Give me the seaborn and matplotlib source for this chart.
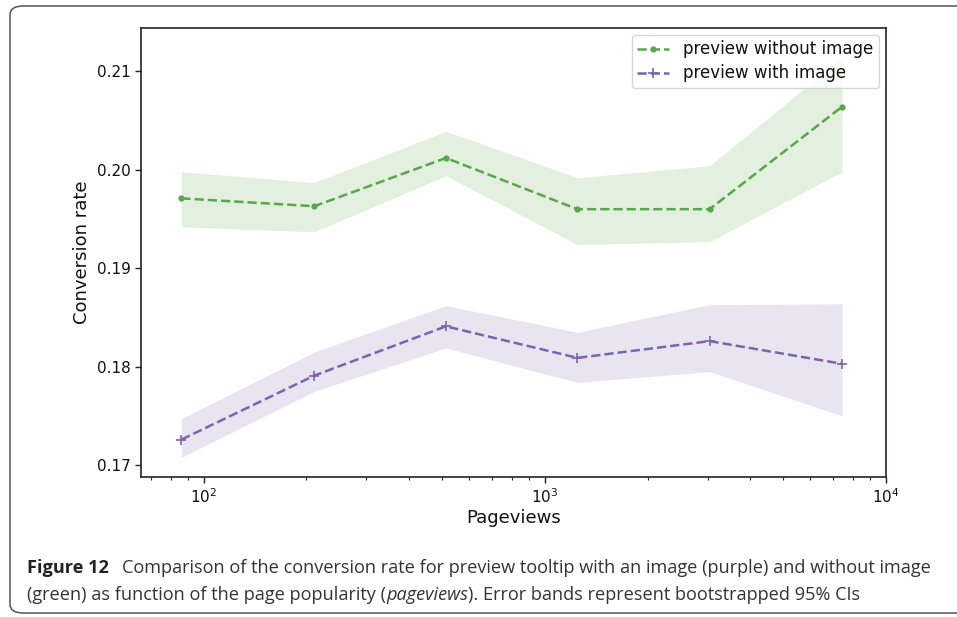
import matplotlib
matplotlib.use("Agg")
import matplotlib.pyplot as plt
from matplotlib.patches import FancyBboxPatch
import seaborn as sns
import numpy as np

# Bin centres (page views) and conversion rates with bootstrapped 95% CI bounds
pageviews = [86, 211, 513, 1246, 3041, 7430]

rate_without_image = [0.1971, 0.1963, 0.2012, 0.1960, 0.1960, 0.2064]
ci_low_without_image = [0.1942, 0.1937, 0.1994, 0.1924, 0.1927, 0.1998]
ci_high_without_image = [0.1998, 0.1987, 0.2039, 0.1992, 0.2004, 0.2114]

rate_with_image = [0.1726, 0.1791, 0.1841, 0.1809, 0.1826, 0.1803]
ci_low_with_image = [0.1708, 0.1775, 0.1819, 0.1784, 0.1795, 0.1750]
ci_high_with_image = [0.1747, 0.1815, 0.1862, 0.1835, 0.1863, 0.1864]

y_ticks = [0.17, 0.18, 0.19, 0.20, 0.21]

green = "#5aa64c"
purple = "#7a65ad"
spine_color = "#22222e"

sns.set_style("ticks")
plt.rcParams["font.family"] = ["DejaVu Sans"]

fig = plt.figure(figsize=(9.57, 6.17), dpi=100)

# Rounded frame around the figure panel
frame = FancyBboxPatch((10 / 957, 4 / 617), 1.2, 607 / 617,
                       boxstyle="round,pad=0,rounding_size=0.014",
                       transform=fig.transFigure, facecolor="none",
                       edgecolor="#555555", linewidth=1.1, clip_on=False)
fig.patches.append(frame)

ax = fig.add_axes([141 / 957, 1 - 477 / 617, (886 - 141) / 957, (477 - 28) / 617])

sns.lineplot(x=pageviews, y=rate_without_image, ax=ax, color=green,
             linestyle="--", linewidth=1.8, marker="o", markersize=4.5,
             markeredgewidth=0, markeredgecolor=green,
             label="preview without image")
ax.fill_between(pageviews, ci_low_without_image, ci_high_without_image,
                color=green, alpha=0.17, linewidth=0)

sns.lineplot(x=pageviews, y=rate_with_image, ax=ax, color=purple,
             linestyle="--", linewidth=1.8, marker="+", markersize=7,
             markeredgewidth=1.2, markeredgecolor=purple,
             label="preview with image")
ax.fill_between(pageviews, ci_low_with_image, ci_high_with_image,
                color=purple, alpha=0.17, linewidth=0)

ax.set_xscale("log")
ax.set_xlim(65.5, 10000)
ax.set_ylim(0.1688, 0.2144)
ax.set_yticks(y_ticks)
ax.set_yticklabels([f"{v:.2f}" for v in y_ticks])

for side in ["left", "bottom", "right", "top"]:
    ax.spines[side].set_visible(True)
    ax.spines[side].set_color(spine_color)
    ax.spines[side].set_linewidth(1.2)
ax.tick_params(axis="both", which="major", labelsize=11, colors=spine_color,
               labelcolor="#111111", length=4, width=1)
ax.tick_params(axis="x", which="minor", length=2.5, width=0.8, colors=spine_color)

ax.set_xlabel("Pageviews", fontsize=13, color="#111111", labelpad=2)
ax.set_ylabel("Conversion rate", fontsize=13, color="#111111", labelpad=4)

leg = ax.legend(loc="upper right", fontsize=12, frameon=True, fancybox=True,
                borderaxespad=0.4, handlelength=1.9, handletextpad=0.85,
                labelspacing=0.35, borderpad=0.35)
leg.get_frame().set_edgecolor("#cccccc")
leg.get_frame().set_linewidth(1.0)
for text in leg.get_texts():
    text.set_color("#111111")

# Caption
cap_font = ["Open Sans", "DejaVu Sans"]
cap_size = 13.1
y1 = 1 - 573 / 617
y2 = 1 - 600 / 617
fig.text(27 / 957, y1, "Figure 12", fontsize=cap_size, fontweight="bold",
         family=cap_font, color="#222222", va="baseline")
fig.text(122 / 957, y1,
         "Comparison of the conversion rate for preview tooltip with an image (purple) and without image",
         fontsize=cap_size, family=cap_font, color="#333333", va="baseline")
line2 = fig.text(27 / 957, y2, "(green) as function of the page popularity (",
                 fontsize=cap_size, family=cap_font, color="#333333", va="baseline")
fig.canvas.draw()
renderer = fig.canvas.get_renderer()
bb = line2.get_window_extent(renderer)
it = fig.text(bb.x1 / fig.bbox.width, y2, "pageviews", fontsize=cap_size,
              family=cap_font, style="italic", color="#333333", va="baseline")
bb2 = it.get_window_extent(renderer)
fig.text(bb2.x1 / fig.bbox.width, y2,
         "). Error bands represent bootstrapped 95% CIs",
         fontsize=cap_size, family=cap_font, color="#333333", va="baseline")

fig.savefig("out.png", dpi=100)
